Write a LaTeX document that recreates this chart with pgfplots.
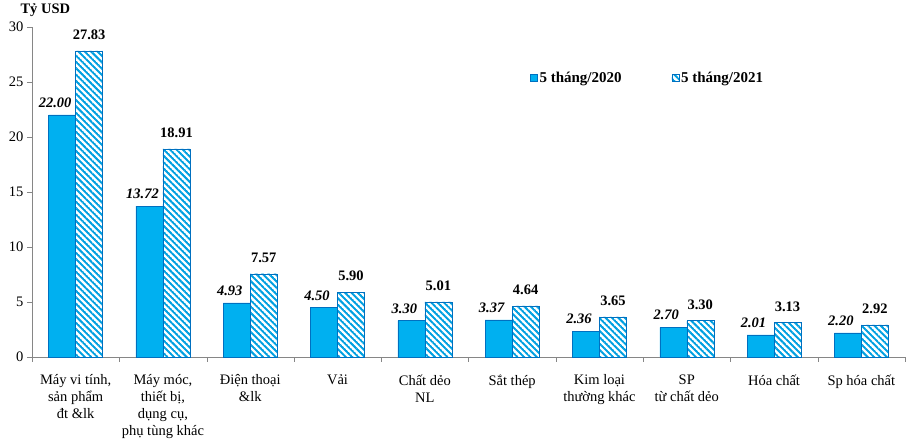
\documentclass[border=0pt]{standalone}
\usepackage{pgfplots}
\pgfplotsset{compat=1.18}
\usepackage{fontspec}
\setmainfont{Liberation Serif}
\usetikzlibrary{patterns.meta}
\definecolor{barblue}{RGB}{0,176,240}
\definecolor{edgeblue}{RGB}{0,112,192}
\definecolor{hatchblue}{RGB}{0,160,225}
\definecolor{axgray}{RGB}{134,134,134}
\tikzdeclarepattern{
  name=hatch,
  parameters={/pgf/pattern keys/size,/pgf/pattern keys/angle,/pgf/pattern keys/line width},
  bounding box={(0,-0.5*\pgfkeysvalueof{/pgf/pattern keys/line width}) and (\pgfkeysvalueof{/pgf/pattern keys/size},0.5*\pgfkeysvalueof{/pgf/pattern keys/line width})},
  tile size={(\pgfkeysvalueof{/pgf/pattern keys/size},\pgfkeysvalueof{/pgf/pattern keys/size})},
  tile transformation={rotate=\pgfkeysvalueof{/pgf/pattern keys/angle}},
  defaults={size/.initial=5pt,angle/.initial=45,line width/.initial=.4pt},
  code={\draw[line width=\pgfkeysvalueof{/pgf/pattern keys/line width}] (0,0) -- (\pgfkeysvalueof{/pgf/pattern keys/size},0);}
}
\begin{document}
\begin{tikzpicture}
\begin{axis}[
  scale only axis, width=873pt, height=330pt,
  ybar=0pt, bar width=27pt,
  xmin=-0.5, xmax=9.5, ymin=0, ymax=30,
  ytick={0,5,...,30},
  xtick={0,...,9},
  xticklabels={{Máy vi tính,\\sản phẩm\\đt \&lk},{Máy móc,\\thiết bị,\\dụng cụ,\\phụ tùng khác},{Điện thoại\\\&lk},{Vải},{Chất dẻo\\NL},{Sắt thép},{Kim loại\\thường khác},{SP\\từ chất dẻo},{Hóa chất},{Sp hóa chất}},
  minor xtick={-0.5,0.5,...,9.5},
  axis x line*=bottom, axis y line*=left,
  axis line style={axgray,-},
  tick align=outside,
  major tick length=5pt, minor tick length=5pt,
  major x tick style={draw=none},
  minor x tick style={axgray},
  major y tick style={axgray},
  /pgf/number format/assume math mode=true,
  ticklabel style={font=\fontsize{14.5}{17}\selectfont, text=black},
  xticklabel style={align=center, yshift=-9pt},
  clip=false,
  legend style={draw=none, fill=none, at={(0.5704,0.845)}, anchor=west, legend columns=2, font=\bfseries\fontsize{15}{17}\selectfont, /tikz/every even column/.append style={column sep=48pt}, inner sep=0pt},
  mylegend/.style={legend image code/.code={\draw[##1] (0pt,-3.5pt) rectangle (7pt,3.5pt);}},
  nodes near coords={\pgfmathprintnumber[fixed,fixed zerofill,precision=2,assume math mode=true]{\pgfplotspointmeta}},
]
\addplot[mylegend, fill=barblue, draw=edgeblue, nodes near coords style={font=\bfseries\itshape\fontsize{14.5}{17}\selectfont, anchor=south, inner sep=2pt, xshift=-7pt, yshift=5pt}]
  coordinates {(0,22.00) (1,13.72) (2,4.93) (3,4.50) (4,3.30) (5,3.37) (6,2.36) (7,2.70) (8,2.01) (9,2.20)};
\addlegendentry{5 tháng/2020}
\addplot[mylegend, draw=edgeblue, pattern={hatch[size=4.5pt, angle=-45, line width=2pt]}, pattern color=hatchblue, nodes near coords style={font=\bfseries\fontsize{14.5}{17}\selectfont, anchor=south, inner sep=2pt, yshift=9pt}]
  coordinates {(0,27.83) (1,18.91) (2,7.57) (3,5.90) (4,5.01) (5,4.64) (6,3.65) (7,3.30) (8,3.13) (9,2.92)};
\addlegendentry{5 tháng/2021}
\node[anchor=base west, font=\bfseries\fontsize{14.5}{17}\selectfont, xshift=-15pt, yshift=13pt] at (rel axis cs:0,1) {Tỷ USD};
\end{axis}
\path (current axis.south west) ++(-32pt,-87pt) (current axis.north east) ++(6pt,27pt);
\end{tikzpicture}
\end{document}
